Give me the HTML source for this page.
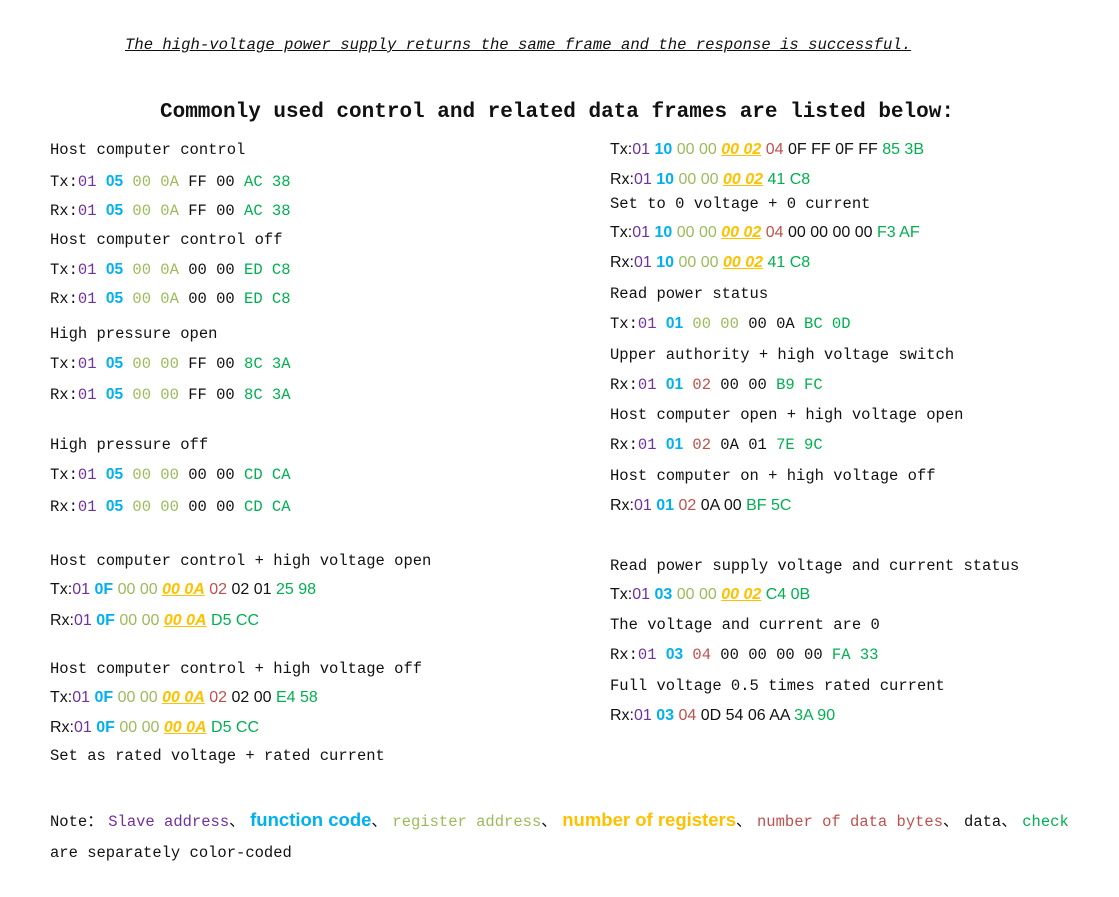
<html><head><style>
body{margin:0;width:1119px;height:897px;background:#fff;position:relative;overflow:hidden;color:#111}
.l{position:absolute;white-space:pre;line-height:20px;height:20px;font-family:"Liberation Mono","Noto Serif CJK SC",monospace;font-size:15.5px}
.s{font-family:"Liberation Sans",sans-serif;font-size:16px}
.p{color:#7030A0}.b{color:#00B0F0;font-weight:bold;font-family:"Liberation Sans",sans-serif}.g{color:#9BBB59}.o{color:#FFC000;font-weight:bold;font-style:italic;text-decoration:underline}.r{color:#C0504D}.k{color:#00B050}
.c{display:inline-block;width:21px;font-family:"Noto Sans CJK SC",sans-serif}
</style></head><body>
<div class="l" style="left:125px;top:35px;font-size:15.6px;font-style:italic;text-decoration:underline">The high-voltage power supply returns the same frame and the response is successful.</div>
<div class="l" style="left:160px;top:101px;font-size:21px;font-weight:bold;height:24px;line-height:24px">Commonly used control and related data frames are listed below:</div>

<div class="l" style="left:50px;top:140px">Host computer control</div>
<div class="l" style="left:50px;top:172px">Tx:<span class="p">01</span> <span class="b">05</span> <span class="g">00 0A</span> FF 00 <span class="k">AC 38</span></div>
<div class="l" style="left:50px;top:201px">Rx:<span class="p">01</span> <span class="b">05</span> <span class="g">00 0A</span> FF 00 <span class="k">AC 38</span></div>
<div class="l" style="left:50px;top:230px">Host computer control off</div>
<div class="l" style="left:50px;top:260px">Tx:<span class="p">01</span> <span class="b">05</span> <span class="g">00 0A</span> 00 00 <span class="k">ED C8</span></div>
<div class="l" style="left:50px;top:289px">Rx:<span class="p">01</span> <span class="b">05</span> <span class="g">00 0A</span> 00 00 <span class="k">ED C8</span></div>
<div class="l" style="left:50px;top:324px">High pressure open</div>
<div class="l" style="left:50px;top:354px">Tx:<span class="p">01</span> <span class="b">05</span> <span class="g">00 00</span> FF 00 <span class="k">8C 3A</span></div>
<div class="l" style="left:50px;top:385px">Rx:<span class="p">01</span> <span class="b">05</span> <span class="g">00 00</span> FF 00 <span class="k">8C 3A</span></div>
<div class="l" style="left:50px;top:435px">High pressure off</div>
<div class="l" style="left:50px;top:465px">Tx:<span class="p">01</span> <span class="b">05</span> <span class="g">00 00</span> 00 00 <span class="k">CD CA</span></div>
<div class="l" style="left:50px;top:497px">Rx:<span class="p">01</span> <span class="b">05</span> <span class="g">00 00</span> 00 00 <span class="k">CD CA</span></div>
<div class="l" style="left:50px;top:551px">Host computer control + high voltage open</div>
<div class="l s" style="left:50px;top:580px">Tx:<span class="p">01</span> <span class="b">0F</span> <span class="g">00 00</span> <span class="o">00 0A</span> <span class="r">02</span> 02 01 <span class="k">25 98</span></div>
<div class="l s" style="left:50px;top:611px">Rx:<span class="p">01</span> <span class="b">0F</span> <span class="g">00 00</span> <span class="o">00 0A</span> <span class="k">D5 CC</span></div>
<div class="l" style="left:50px;top:659px">Host computer control + high voltage off</div>
<div class="l s" style="left:50px;top:688px">Tx:<span class="p">01</span> <span class="b">0F</span> <span class="g">00 00</span> <span class="o">00 0A</span> <span class="r">02</span> 02 00 <span class="k">E4 58</span></div>
<div class="l s" style="left:50px;top:718px">Rx:<span class="p">01</span> <span class="b">0F</span> <span class="g">00 00</span> <span class="o">00 0A</span> <span class="k">D5 CC</span></div>
<div class="l" style="left:50px;top:746px">Set as rated voltage + rated current</div>

<div class="l s" style="left:610px;top:140px">Tx:<span class="p">01</span> <span class="b">10</span> <span class="g">00 00</span> <span class="o">00 02</span> <span class="r">04</span> 0F FF 0F FF <span class="k">85 3B</span></div>
<div class="l s" style="left:610px;top:170px">Rx:<span class="p">01</span> <span class="b">10</span> <span class="g">00 00</span> <span class="o">00 02</span> <span class="k">41 C8</span></div>
<div class="l" style="left:610px;top:194px">Set to 0 voltage + 0 current</div>
<div class="l s" style="left:610px;top:223px">Tx:<span class="p">01</span> <span class="b">10</span> <span class="g">00 00</span> <span class="o">00 02</span> <span class="r">04</span> 00 00 00 00 <span class="k">F3 AF</span></div>
<div class="l s" style="left:610px;top:253px">Rx:<span class="p">01</span> <span class="b">10</span> <span class="g">00 00</span> <span class="o">00 02</span> <span class="k">41 C8</span></div>
<div class="l" style="left:610px;top:284px">Read power status</div>
<div class="l" style="left:610px;top:314px">Tx:<span class="p">01</span> <span class="b">01</span> <span class="g">00 00</span> 00 0A <span class="k">BC 0D</span></div>
<div class="l" style="left:610px;top:345px">Upper authority + high voltage switch</div>
<div class="l" style="left:610px;top:375px">Rx:<span class="p">01</span> <span class="b">01</span> <span class="r">02</span> 00 00 <span class="k">B9 FC</span></div>
<div class="l" style="left:610px;top:405px">Host computer open + high voltage open</div>
<div class="l" style="left:610px;top:435px">Rx:<span class="p">01</span> <span class="b">01</span> <span class="r">02</span> 0A 01 <span class="k">7E 9C</span></div>
<div class="l" style="left:610px;top:466px">Host computer on + high voltage off</div>
<div class="l s" style="left:610px;top:496px">Rx:<span class="p">01</span> <span class="b">01</span> <span class="r">02</span> 0A 00 <span class="k">BF 5C</span></div>
<div class="l" style="left:610px;top:556px">Read power supply voltage and current status</div>
<div class="l s" style="left:610px;top:585px">Tx:<span class="p">01</span> <span class="b">03</span> <span class="g">00 00</span> <span class="o">00 02</span> <span class="k">C4 0B</span></div>
<div class="l" style="left:610px;top:615px">The voltage and current are 0</div>
<div class="l" style="left:610px;top:645px">Rx:<span class="p">01</span> <span class="b">03</span> <span class="r">04</span> 00 00 00 00 <span class="k">FA 33</span></div>
<div class="l" style="left:610px;top:676px">Full voltage 0.5 times rated current</div>
<div class="l s" style="left:610px;top:706px">Rx:<span class="p">01</span> <span class="b">03</span> <span class="r">04</span> 0D 54 06 AA <span class="k">3A 90</span></div>

<div class="l" style="left:50px;top:810px">Note<span class="c">：</span><span class="p">Slave address</span><span class="c">、</span><span class="b" style="font-size:18.5px">function code</span><span class="c">、</span><span class="g">register address</span><span class="c">、</span><span style="color:#FFC000;font-weight:bold;font-family:'Liberation Sans',sans-serif;font-size:18.5px">number of registers</span><span class="c">、</span><span class="r">number of data bytes</span><span class="c">、</span>data<span class="c">、</span><span class="k">check</span></div>
<div class="l" style="left:50px;top:843px">are separately color-coded</div>
</body></html>
